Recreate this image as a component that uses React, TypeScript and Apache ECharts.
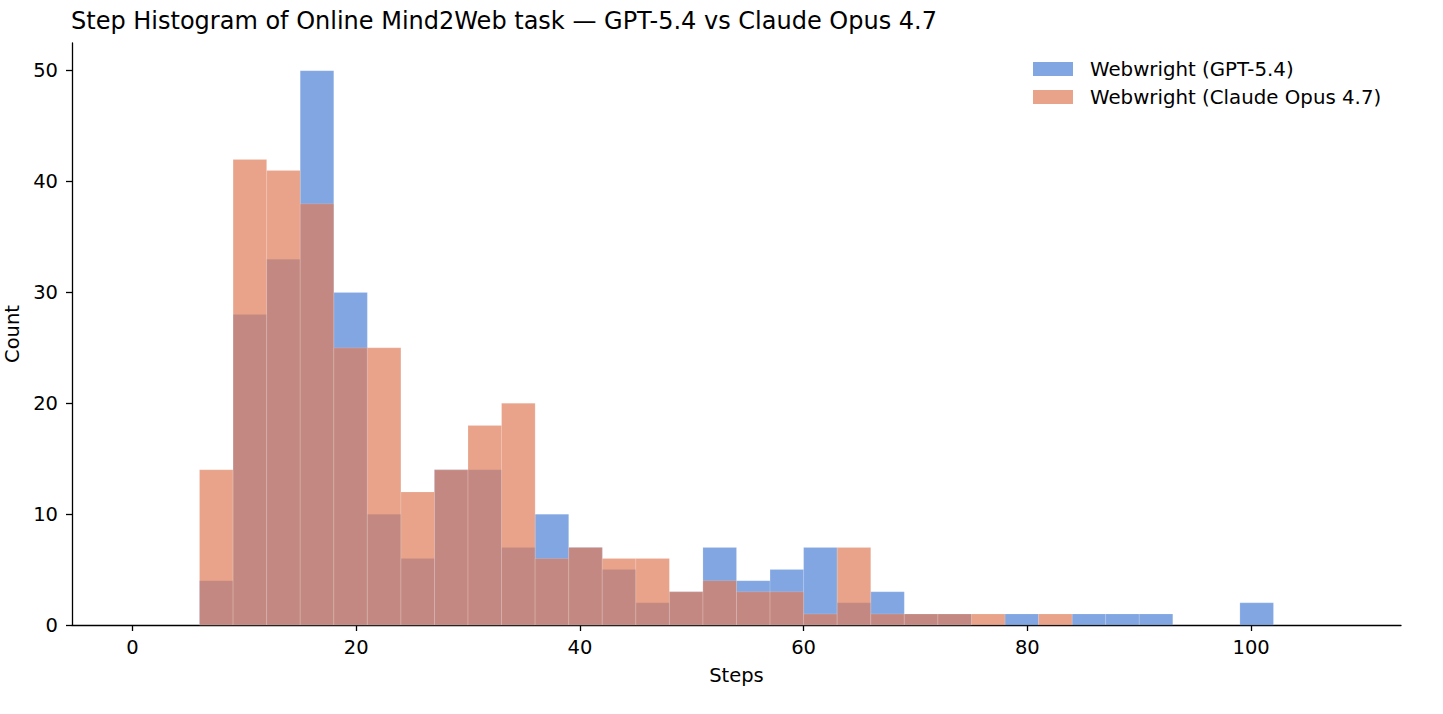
import React, { useEffect, useRef } from "react";
import * as echarts from "echarts";

const BIN_START = 0;
const BIN_WIDTH = 3;
// 36 bins: 0-3, 3-6, ..., 105-108
const gptCounts = [0, 0, 4, 28, 33, 50, 30, 10, 6, 14, 14, 7, 10, 7, 5, 2, 3, 7, 4, 5, 7, 2, 3, 1, 1, 0, 1, 0, 1, 1, 1, 0, 0, 2, 0, 0];
const claudeCounts = [0, 0, 14, 42, 41, 38, 25, 25, 12, 14, 18, 20, 6, 7, 6, 6, 3, 4, 3, 3, 1, 7, 1, 1, 1, 1, 0, 1, 0, 0, 0, 0, 0, 0, 0, 0];
const xTicks = [0, 20, 40, 60, 80, 100];
const yTicks = [0, 10, 20, 30, 40, 50];
const seriesNames = ["Webwright (GPT-5.4)", "Webwright (Claude Opus 4.7)"];
const colors = ["rgba(76,128,214,0.7)", "rgba(222,124,88,0.7)"];

function toBins(counts: number[]) {
  return counts.map((c, i) => [BIN_START + i * BIN_WIDTH, BIN_START + (i + 1) * BIN_WIDTH, c]);
}

const FONT = "DejaVu Sans";
const FS = 19.5;

export default function App() {
  const ref = useRef<HTMLDivElement>(null);
  useEffect(() => {
    if (!ref.current) return;
    const chart = echarts.init(ref.current, null, { renderer: "svg" });
    const renderItem = (params: any, api: any) => {
      const x0 = api.value(0);
      const x1 = api.value(1);
      const v = api.value(2);
      if (!v) return null;
      const p0 = api.coord([x0, 0]);
      const p1 = api.coord([x1, v]);
      return {
        type: "rect",
        shape: { x: p0[0], y: p1[1], width: p1[0] - p0[0], height: p0[1] - p1[1] },
        style: { fill: api.visual("color"), stroke: "rgba(255,255,255,0.25)", lineWidth: 0.6 },
      };
    };
    const axisLine = { show: true, onZero: false, lineStyle: { color: "#000", width: 1.3 } };
    const tick = { show: true, length: 6, lineStyle: { color: "#000", width: 1.3 } };
    const nameTextStyle = { fontFamily: FONT, fontSize: FS, color: "#000" };
    chart.setOption({
      animation: false,
      backgroundColor: "#fff",
      title: {
        text: "Step Histogram of Online Mind2Web task — GPT-5.4 vs Claude Opus 4.7",
        left: 71,
        top: 9,
        padding: 0,
        textStyle: { fontFamily: FONT, fontSize: 24, fontWeight: "normal", color: "#000" },
      },
      legend: {
        orient: "vertical",
        left: 1033,
        top: 59,
        padding: 0,
        itemGap: 8,
        itemWidth: 40,
        itemHeight: 14,
        icon: "rect",
        data: seriesNames,
        textStyle: { fontFamily: FONT, fontSize: 19.8, color: "#000", padding: [0, 0, 0, 12] },
      },
      grid: { left: 72, right: 42, top: 43, bottom: 89, containLabel: false, outerBoundsMode: "none" },
      xAxis: {
        type: "value",
        min: -5.4,
        max: 113.4,
        name: "Steps",
        nameLocation: "middle",
        nameGap: 40,
        nameTextStyle,
        axisLine,
        splitLine: { show: false },
        axisTick: { ...tick, customValues: xTicks },
        axisLabel: { customValues: xTicks, fontFamily: FONT, fontSize: FS, color: "#000", margin: 12 },
      },
      yAxis: {
        type: "value",
        min: 0,
        max: 52.5,
        name: "Count",
        nameLocation: "middle",
        nameGap: 49,
        nameTextStyle,
        axisLine,
        splitLine: { show: false },
        axisTick: { ...tick, customValues: yTicks },
        axisLabel: { customValues: yTicks, fontFamily: FONT, fontSize: FS, color: "#000", margin: 14 },
      },
      series: [
        {
          name: seriesNames[0],
          type: "custom",
          renderItem,
          itemStyle: { color: colors[0] },
          encode: { x: [0, 1], y: 2 },
          data: toBins(gptCounts),
        },
        {
          name: seriesNames[1],
          type: "custom",
          renderItem,
          itemStyle: { color: colors[1] },
          encode: { x: [0, 1], y: 2 },
          data: toBins(claudeCounts),
        },
      ],
    });
    return () => chart.dispose();
  }, []);
  return <div ref={ref} style={{ position: "fixed", left: 0, top: 0, width: 1443, height: 714 }} />;
}
